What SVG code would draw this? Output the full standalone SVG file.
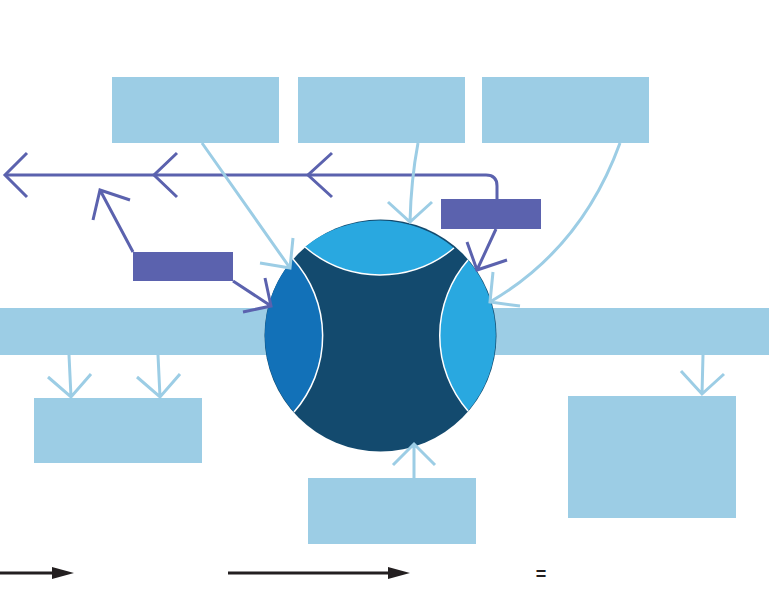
<svg xmlns="http://www.w3.org/2000/svg" width="769" height="605" viewBox="0 0 769 605">
<style>
.box{fill:#9ccde5}
.pbox{fill:#5b62ae}
.lc{fill:none;stroke:#9ccde5;stroke-width:3;stroke-linecap:butt}
.pc{fill:none;stroke:#5b62ae;stroke-width:3}
.bk{fill:none;stroke:#231f20;stroke-width:3}
.seg{fill:none;stroke:#ffffff;stroke-width:1.5}
</style>
<rect width="769" height="605" fill="#ffffff"/>
<g id="top-box-1"><rect class="box" x="112" y="77" width="167" height="66"/></g>
<g id="top-box-2"><rect class="box" x="298" y="77" width="167" height="66"/></g>
<g id="top-box-3"><rect class="box" x="482" y="77" width="167" height="66"/></g>
<g id="left-bar"><rect class="box" x="0" y="308" width="275" height="47"/></g>
<g id="right-bar"><rect class="box" x="488" y="308" width="281" height="47"/></g>
<g id="left-lower-box"><rect class="box" x="34" y="398" width="168" height="65"/></g>
<g id="right-lower-box"><rect class="box" x="568" y="396" width="168" height="122"/></g>
<g id="bottom-box"><rect class="box" x="308" y="478" width="168" height="66"/></g>
<g id="purple-box-right"><rect class="pbox" x="441" y="199" width="100" height="30"/></g>
<g id="purple-box-left"><rect class="pbox" x="133" y="252" width="100" height="29"/></g>
<g id="hub">
<circle cx="380.5" cy="335.5" r="116" fill="#134a6e"/>
<path fill="#29a8e0" d="M305,247 A116.5,116.5 0 0 1 454,248 A115,115 0 0 1 305,247 Z"/>
<path fill="#1271b8" d="M294,412 A116.5,116.5 0 0 1 293,259 A115,115 0 0 1 294,412 Z"/>
<path fill="#29a8e0" d="M468,260 A116.5,116.5 0 0 1 468,411 A115,115 0 0 1 468,260 Z"/>
<path class="seg" d="M454,248 A115,115 0 0 1 305,247"/>
<path class="seg" d="M293,259 A115,115 0 0 1 294,412"/>
<path class="seg" d="M468,411 A115,115 0 0 1 468,260"/>
</g>
<g id="connectors">
<path class="pc" d="M5,175 H486 Q497,175 497,186 V199"/>
<path class="pc" d="M27,153 L5,175 L27,197 M177,153 L154,175 L177,197 M332,153 L308,175 L332,197"/>
<path class="pc" d="M133,252 L100,190 M93,220 L100,190 L130,200"/>
<path class="pc" d="M233,281 L271,306 M243,312 L271,306 L265,278"/>
<path class="pc" d="M496,229 L477,270 M467,242 L477,270 L507,260"/>
<path class="lc" d="M202,143 L290,268 M293,238 L290,268 L260,263"/>
<path class="lc" d="M418,143 Q411,180 410,222 M388,202 L410,222 L432,202"/>
<path class="lc" d="M620,143 C592,220 545,270 490,302 M493,272 L490,302 L520,306"/>
<path class="lc" d="M414,478 L414,444 M393,465 L414,444 L435,465"/>
<path class="lc" d="M69,355 L71,397 M48,377 L71,397 L91,374"/>
<path class="lc" d="M158,355 L160,397 M137,377 L160,397 L180,374"/>
<path class="lc" d="M703,355 L702,394 M681,371 L702,394 L724,374"/>
<path class="bk" d="M0,573 H54"/>
<path fill="#231f20" d="M52,567 L74,573 L52,579 Z"/>
<path class="bk" d="M228,573 H390"/>
<path fill="#231f20" d="M388,567 L410,573 L388,579 Z"/>
</g>
<text x="541" y="580" font-family="Liberation Sans, Arial, sans-serif" font-size="18" font-weight="bold" fill="#231f20" text-anchor="middle">=</text>
</svg>
